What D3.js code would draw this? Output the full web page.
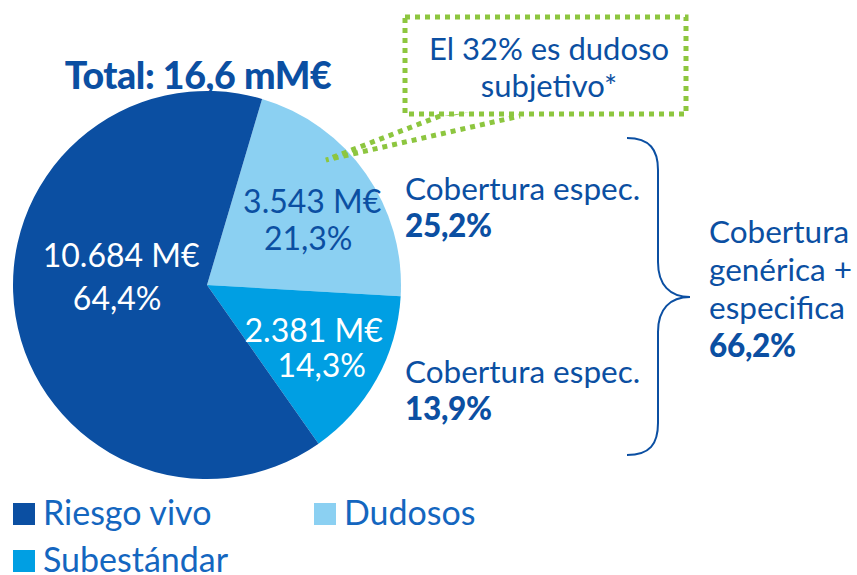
<!DOCTYPE html>
<html><head><meta charset="utf-8">
<script src="https://cdn.jsdelivr.net/npm/d3@7"></script>
<style>
html,body{margin:0;padding:0;background:#fff;}
svg{display:block;font-family:Lato,"Open Sans",sans-serif;}
</style></head>
<body><svg id="c" width="857" height="575"></svg>
<script>
// ---- data ----
const categories = ["Dudosos", "Subestándar", "Riesgo vivo"];
const values = [3543, 2381, 10684];
const valueLabels = ["3.543 M€", "2.381 M€", "10.684 M€"];
const pctLabels = ["21,3%", "14,3%", "64,4%"];
const legendOrder = ["Riesgo vivo", "Dudosos", "Subestándar"];
const totalLabel = "Total: 16,6 mM€";
const calloutLines = ["El 32% es dudoso", "subjetivo*"];
const coverageTop = ["Cobertura espec.", "25,2%"];
const coverageBottom = ["Cobertura espec.", "13,9%"];
const coverageAll = ["Cobertura", "genérica +", "especifica", "66,2%"];

// ---- styles ----
const colors = d3.scaleOrdinal().domain(["Riesgo vivo","Dudosos","Subestándar"])
  .range(["#0b4fa2", "#8bd0f2", "#009fe3"]);
const labelColors = {"Dudosos":"#0b4fa2","Subestándar":"#ffffff","Riesgo vivo":"#ffffff"};
const dark = "#0b4fa2";
const legendText = "#1466bf";
const green = "#8dc63f";

const svg = d3.select("#c");
const cx = 207, cy = 285, R = 194;
const startA = 16.5 * Math.PI / 180;

const pie = d3.pie().sort(null).value(d => d).startAngle(startA).endAngle(startA + 2*Math.PI);
const arcs = pie(values);
const arc = d3.arc().innerRadius(0).outerRadius(R);

const g = svg.append("g").attr("transform", `translate(${cx},${cy})`);
g.selectAll("path.slice").data(arcs).enter().append("path")
  .attr("class","slice")
  .attr("d", arc)
  .attr("fill", (d,i) => colors(categories[i]));

// slice labels: anchored on centroid of a label arc, then nudged per line
const labelArc = d3.arc().innerRadius(R * 0.6).outerRadius(R * 0.6);
const lineNudges = [
  [[10, -5], [6, 32]],
  [[5, 0], [13, 35]],
  [[29, -37], [25, 6]]
];
arcs.forEach((a, i) => {
  const [x, y] = labelArc.centroid(a);
  const t = g.append("text").attr("text-anchor","middle")
    .attr("fill", labelColors[categories[i]]).attr("font-size", 32);
  t.append("tspan").attr("x", x + lineNudges[i][0][0]).attr("y", y + lineNudges[i][0][1]).text(valueLabels[i]);
  t.append("tspan").attr("x", x + lineNudges[i][1][0]).attr("y", y + lineNudges[i][1][1]).text(pctLabels[i]);
});

// total
svg.append("text").attr("x", 198).attr("y", 89).attr("text-anchor","middle")
  .attr("fill", dark).attr("font-size", 37.5).attr("font-weight", 900)
  .attr("letter-spacing", -0.4).text(totalLabel);

// callout
svg.append("rect").attr("x", 405).attr("y", 17).attr("width", 281).attr("height", 97)
  .attr("fill","none").attr("stroke", green).attr("stroke-width", 5)
  .attr("stroke-dasharray", "5,5");
svg.append("path").attr("d", "M440,116 L326,160 L520,116")
  .attr("fill","none").attr("stroke", green).attr("stroke-width", 5)
  .attr("stroke-dasharray", "5,5");
svg.append("path").attr("d", "M444,116 L470,112 L452,116 Z").attr("fill", green);
const ct = svg.append("text").attr("text-anchor","middle").attr("fill", dark).attr("font-size", 31);
calloutLines.forEach((s, i) => ct.append("tspan").attr("x", 549).attr("y", 60 + i*37).text(s));

// coverage texts
function block(lines, x, y0, step) {
  const t = svg.append("text").attr("fill", dark).attr("font-size", 31.5);
  lines.forEach((s, i) => {
    const sp = t.append("tspan").attr("x", x).attr("y", y0 + i*step).text(s);
    if (i === lines.length - 1) sp.attr("font-weight", 900).attr("letter-spacing", -0.3);
  });
}
block(coverageTop, 405, 200, 37);
block(coverageBottom, 405, 383, 37);
block(coverageAll, 709, 243, 38);

// brace
svg.append("path")
  .attr("d", "M627,138 C650,138 658,150 658,170 L658,262 C658,285 670,297 690,297 C670,297 658,309 658,332 L658,423 C658,444 650,455 627,455")
  .attr("fill","none").attr("stroke", dark).attr("stroke-width", 2);

// legend
const legPos = [[13, 503], [314, 503], [13, 550]];
legendOrder.forEach((name, i) => {
  const [x, y] = legPos[i];
  svg.append("rect").attr("x", x).attr("y", y).attr("width", 22).attr("height", 22).attr("fill", colors(name));
  svg.append("text").attr("x", x + 30).attr("y", y + 22).attr("fill", legendText)
    .attr("font-size", 34).text(name);
});
</script></body></html>
